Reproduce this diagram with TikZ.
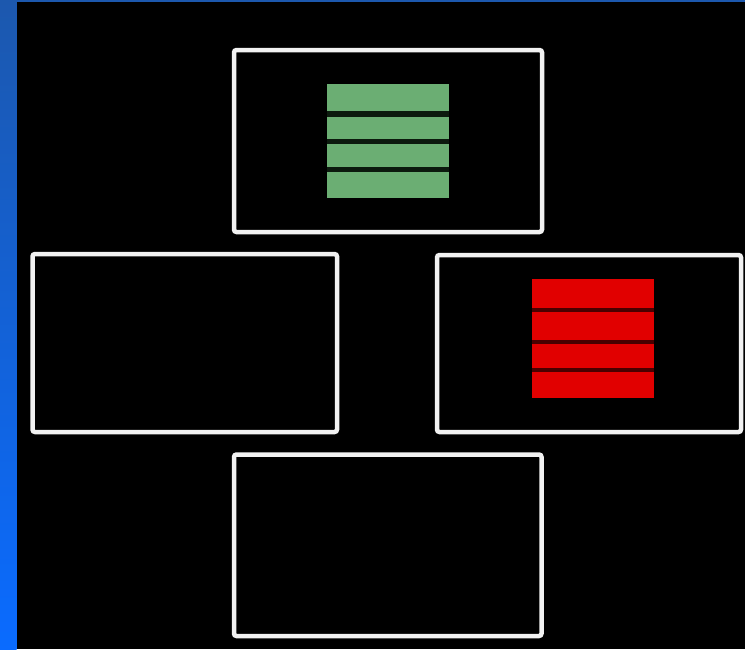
\documentclass[tikz,border=0pt]{standalone}
\usepackage{tikz}
\definecolor{framewhite}{HTML}{F2F2F2}
\definecolor{barsgreen}{HTML}{6BAE73}
\definecolor{barsred}{HTML}{E10000}
\definecolor{darkred}{HTML}{4A0000}
\definecolor{darkgreen}{HTML}{0C1A0E}
\definecolor{stripblueA}{HTML}{1C58AE}
\definecolor{stripblueB}{HTML}{0A6BFF}
\tikzset{
  panel/.style={draw=framewhite, line width=4.5pt, rounded corners=2.5pt, inner sep=0pt, outer sep=0pt},
  gbar/.style={fill=barsgreen},
  rbar/.style={fill=barsred}
}
\begin{document}
\begin{tikzpicture}[x={(1pt,0)}, y={(0,-1pt)}]
\useasboundingbox (0,0) rectangle (745,649);
\fill[black] (0,0) rectangle (745,649);
\shade[top color=stripblueA, bottom color=stripblueB] (0,0) rectangle (16.5,649);
\fill[stripblueA] (0,0) rectangle (745,1.5);
% panels
\node[panel, minimum width=308pt, minimum height=182pt] (toppanel) at (388,141) {};
\node[panel, minimum width=304.5pt, minimum height=178pt] (leftpanel) at (184.75,343) {};
\node[panel, minimum width=304pt, minimum height=177pt] (rightpanel) at (589,343.5) {};
\node[panel, minimum width=307.5pt, minimum height=181.5pt] (bottompanel) at (387.75,545.25) {};
% green bars
\fill[darkgreen] (327,84) rectangle (449,198);
\fill[gbar] (327,84) rectangle (449,111);
\fill[gbar] (327,116.5) rectangle (449,138.5);
\fill[gbar] (327,144) rectangle (449,166.5);
\fill[gbar] (327,172) rectangle (449,198);
% red bars
\fill[darkred] (532,279) rectangle (654,397.5);
\fill[rbar] (532,279) rectangle (654,307.5);
\fill[rbar] (532,311.5) rectangle (654,339.5);
\fill[rbar] (532,343.5) rectangle (654,368);
\fill[rbar] (532,371.5) rectangle (654,397.5);
\end{tikzpicture}
\end{document}
